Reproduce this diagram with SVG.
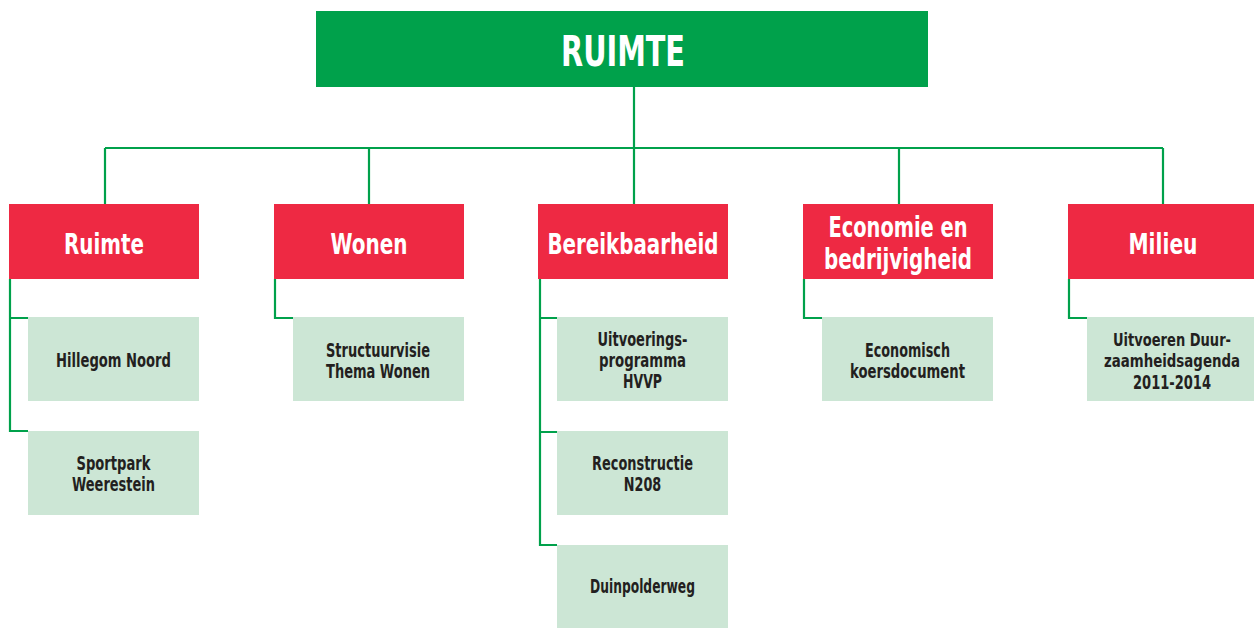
<svg xmlns="http://www.w3.org/2000/svg" width="1254" height="628" viewBox="0 0 1254 628">
<style>
.top{fill:#00A14B}
.cat{fill:#EE2943}
.item{fill:#CCE6D5}
text{font-family:"Liberation Sans Narrow","DejaVu Sans Condensed","Liberation Sans",sans-serif;font-weight:bold;text-anchor:middle}
.tt{fill:#fff;font-size:43px}
.ct{fill:#fff;font-size:29px}
.it{fill:#231F20;font-size:19.5px}
.sm{font-size:18px}
.conn{fill:none;stroke:#00A14B;stroke-width:2.2}
</style>
<rect width="1254" height="628" fill="#fff"/>
<g id="connectors" class="conn">
<path d="M634 87V148M105 148H1163M105 148V204M369 148V204M634 148V204M899 148V204M1163 148V204"/>
<path d="M10 279V431H28M10 318H28"/>
<path d="M275 279V318H293"/>
<path d="M540 279V545H557M540 318H557M540 432H557"/>
<path d="M804 279V318H822"/>
<path d="M1069 279V318H1087"/>
</g>
<g id="n-root"><rect class="top" x="316" y="11" width="612" height="76"/><text class="tt" x="623" y="66" textLength="124" lengthAdjust="spacingAndGlyphs">RUIMTE</text></g>
<g id="n-ruimte"><rect class="cat" x="9" y="204" width="190" height="75"/><text class="ct" x="104" y="254" textLength="80" lengthAdjust="spacingAndGlyphs">Ruimte</text></g>
<g id="n-wonen"><rect class="cat" x="274" y="204" width="190" height="75"/><text class="ct" x="369" y="254" textLength="77" lengthAdjust="spacingAndGlyphs">Wonen</text></g>
<g id="n-bereik"><rect class="cat" x="538" y="204" width="190" height="75"/><text class="ct" x="633" y="254" textLength="171" lengthAdjust="spacingAndGlyphs">Bereikbaarheid</text></g>
<g id="n-economie"><rect class="cat" x="803" y="204" width="190" height="75"/><text class="ct" x="898" y="237" textLength="139" lengthAdjust="spacingAndGlyphs">Economie en</text><text class="ct" x="898" y="269" textLength="148" lengthAdjust="spacingAndGlyphs">bedrijvigheid</text></g>
<g id="n-milieu"><rect class="cat" x="1068" y="204" width="186" height="75"/><text class="ct" x="1163" y="254" textLength="69" lengthAdjust="spacingAndGlyphs">Milieu</text></g>
<g id="n-hillegom"><rect class="item" x="28" y="317" width="171" height="84"/><text class="it" x="113.5" y="366.5" textLength="115" lengthAdjust="spacingAndGlyphs">Hillegom Noord</text></g>
<g id="n-sportpark"><rect class="item" x="28" y="431" width="171" height="84"/><text class="it" x="113.5" y="470" textLength="74" lengthAdjust="spacingAndGlyphs">Sportpark</text><text class="it" x="113.5" y="490.5" textLength="83" lengthAdjust="spacingAndGlyphs">Weerestein</text></g>
<g id="n-structuur"><rect class="item" x="293" y="317" width="171" height="84"/><text class="it" x="378" y="357" textLength="104" lengthAdjust="spacingAndGlyphs">Structuurvisie</text><text class="it" x="378" y="377.5" textLength="104" lengthAdjust="spacingAndGlyphs">Thema Wonen</text></g>
<g id="n-uitvoering"><rect class="item" x="557" y="317" width="171" height="84"/><text class="it" x="642.5" y="345.5" textLength="90" lengthAdjust="spacingAndGlyphs">Uitvoerings-</text><text class="it" x="642.5" y="366.5" textLength="87" lengthAdjust="spacingAndGlyphs">programma</text><text class="it" x="642.5" y="388" textLength="39" lengthAdjust="spacingAndGlyphs">HVVP</text></g>
<g id="n-reconstructie"><rect class="item" x="557" y="431" width="171" height="84"/><text class="it" x="642.5" y="470" textLength="101" lengthAdjust="spacingAndGlyphs">Reconstructie</text><text class="it" x="642.5" y="490.5" textLength="37.5" lengthAdjust="spacingAndGlyphs">N208</text></g>
<g id="n-duinpolder"><rect class="item" x="557" y="545" width="171" height="83"/><text class="it" x="642.5" y="593" textLength="105" lengthAdjust="spacingAndGlyphs">Duinpolderweg</text></g>
<g id="n-economisch"><rect class="item" x="822" y="317" width="171" height="84"/><text class="it" x="907.5" y="357" textLength="85" lengthAdjust="spacingAndGlyphs">Economisch</text><text class="it" x="907.5" y="377.5" textLength="115" lengthAdjust="spacingAndGlyphs">koersdocument</text></g>
<g id="n-duurzaam"><rect class="item" x="1087" y="317" width="167" height="84"/><text class="it sm" x="1172" y="345.5" textLength="118" lengthAdjust="spacingAndGlyphs">Uitvoeren Duur-</text><text class="it sm" x="1172" y="366.5" textLength="136" lengthAdjust="spacingAndGlyphs">zaamheidsagenda</text><text class="it" x="1172" y="388.5" textLength="78" lengthAdjust="spacingAndGlyphs">2011-2014</text></g>
</svg>
